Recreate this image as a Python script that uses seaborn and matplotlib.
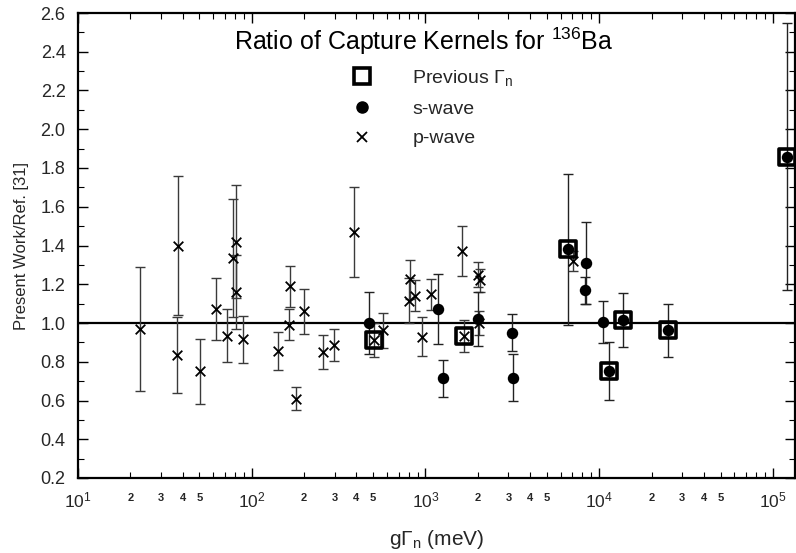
import numpy as np
import pandas as pd
import matplotlib
matplotlib.use("Agg")
import matplotlib.pyplot as plt
import seaborn as sns
from matplotlib.ticker import LogLocator, FuncFormatter, MultipleLocator, LogFormatterSciNotation
from matplotlib.lines import Line2D

# ---------------- data ----------------
p_x = [22.8, 37.8, 37.0, 50.4, 62.2, 71.8, 78.3, 81.0, 81.0, 88.7, 142, 166, 164, 201, 180,
       258, 297, 387, 506, 566, 815, 804, 871, 951, 1077, 1614, 1674, 2000, 2060, 2032, 7100]
p_y = [0.97, 1.40, 0.835, 0.75, 1.07, 0.935, 1.335, 1.42, 1.16, 0.915, 0.855, 1.19, 0.99, 1.06, 0.61,
       0.85, 0.887, 1.47, 0.912, 0.963, 1.225, 1.115, 1.14, 0.93, 1.148, 1.372, 0.933, 1.25, 1.22, 1.00, 1.32]
p_err = [0.32, 0.36, 0.195, 0.17, 0.16, 0.135, 0.305, 0.29, 0.19, 0.12, 0.10, 0.105, 0.08, 0.115, 0.058,
         0.088, 0.083, 0.23, 0.087, 0.09, 0.10, 0.115, 0.08, 0.10, 0.08, 0.13, 0.085, 0.065, 0.06, 0.063, 0.05]

s_x = [473, 1186, 1268, 1995, 3162, 3197, 6640, 8400, 8300, 10550, 11430, 13750, 24940, 120000]
s_y = [1.00, 1.074, 0.715, 1.022, 0.95, 0.718, 1.38, 1.31, 1.17, 1.005, 0.752, 1.014, 0.962, 1.858]
s_err = [0.16, 0.18, 0.095, 0.14, 0.097, 0.12, 0.39, 0.21, 0.07, 0.11, 0.15, 0.14, 0.137, 0.69]

prev_x = [506, 1674, 6640, 11430, 13750, 24940, 120000]
prev_y = [0.912, 0.933, 1.38, 0.752, 1.014, 0.962, 1.858]

legend_labels = ["Previous Γ$_{\\rm n}$", "s-wave", "p-wave"]
title_text = "Ratio of Capture Kernels for $^{136}$Ba"
x_label = "gΓ$_{\\rm n}$ (meV)"
y_label = "Present Work/Ref. [31]"

# ---------------- style ----------------
sns.set_theme(style="ticks")
plt.rcParams["font.family"] = ["Liberation Sans", "DejaVu Sans"]
plt.rcParams["mathtext.fontset"] = "custom"
plt.rcParams["mathtext.rm"] = "Liberation Sans"
plt.rcParams["mathtext.it"] = "Liberation Sans:italic"
plt.rcParams["mathtext.bf"] = "Liberation Sans:bold"

fig = plt.figure(figsize=(7.96, 5.53), dpi=100)
L, R, T, B = 78, 795, 13, 478
ax = fig.add_axes([L / 796, 1 - B / 553, (R - L) / 796, (B - T) / 553])

pdf = pd.DataFrame({"x": p_x, "y": p_y, "e": p_err})
sdf = pd.DataFrame({"x": s_x, "y": s_y, "e": s_err})
qdf = pd.DataFrame({"x": prev_x, "y": prev_y})

ax.axhline(1.0, color="black", lw=1.6, zorder=1)

ax.errorbar(pdf["x"], pdf["y"], yerr=pdf["e"], fmt="none", ecolor="#3a3a3a",
            elinewidth=1.0, capsize=3.5, capthick=1.0, zorder=2)
ax.errorbar(sdf["x"], sdf["y"], yerr=sdf["e"], fmt="none", ecolor="#222222",
            elinewidth=1.0, capsize=3.5, capthick=1.0, zorder=2)

sns.scatterplot(data=pdf, x="x", y="y", marker="x", s=48, color="black",
                linewidth=1.3, ax=ax, zorder=4, legend=False)
sns.scatterplot(data=sdf, x="x", y="y", marker="o", s=68, color="black",
                edgecolor="black", linewidth=0, ax=ax, zorder=4, legend=False)
sns.scatterplot(data=qdf, x="x", y="y", marker="s", s=135, facecolor="none",
                edgecolor="black", linewidth=2.6, ax=ax, zorder=5, legend=False)

ax.set_xscale("log")
ax.set_xlim(10, 10 ** (1 + (R - L) / 173.75))
ax.set_ylim(0.2, 2.6)

ax.xaxis.set_major_locator(LogLocator(base=10, numticks=10))
ax.xaxis.set_major_formatter(LogFormatterSciNotation())
ax.xaxis.set_minor_locator(LogLocator(base=10, subs=np.arange(2, 10), numticks=100))


def minor_fmt(v, pos):
    m = v / 10 ** np.floor(np.log10(v) + 1e-9)
    mi = int(round(m))
    return str(mi) if mi in (2, 3, 4, 5) and abs(m - mi) < 1e-6 else ""


ax.xaxis.set_minor_formatter(FuncFormatter(minor_fmt))
ax.yaxis.set_major_locator(MultipleLocator(0.2))
ax.yaxis.set_minor_locator(MultipleLocator(0.1))
ax.yaxis.set_major_formatter(FuncFormatter(lambda v, p: f"{v:.1f}"))

ax.tick_params(which="both", direction="in", top=True, right=True, color="black")
ax.tick_params(which="major", length=7, width=1.0, labelsize=13, pad=9)
ax.tick_params(axis="x", which="major", labelsize=12.5, pad=9)
ax.tick_params(which="minor", length=4.5, width=0.8)
ax.tick_params(axis="x", which="minor", labelsize=8, pad=11)
for sp in ax.spines.values():
    sp.set_linewidth(1.6)
    sp.set_color("black")

ax.set_xlabel(x_label, fontsize=15, labelpad=13)
ax.set_ylabel(y_label, fontsize=12, labelpad=8)

ax.text((424 - L) / (R - L), (B - 41) / (B - T), title_text, transform=ax.transAxes,
        ha="center", va="center", fontsize=18, color="black")

handles = [
    Line2D([], [], ls="", marker="s", mfc="none", mec="black", mew=2.6, ms=11),
    Line2D([], [], ls="", marker="o", color="black", ms=8),
    Line2D([], [], ls="", marker="x", color="black", mew=1.3, ms=7.5),
]
fs = 14
ax.legend(handles, legend_labels, loc="upper left",
          bbox_to_anchor=((352 - L) / (R - L), (B - 68) / (B - T)),
          frameon=False, fontsize=fs, handlelength=1.0, handletextpad=2.1,
          labelspacing=0.62, borderpad=0, borderaxespad=0)

fig.canvas.draw()
for lbl in ax.xaxis.get_minorticklabels():
    lbl.set_fontweight("bold")

fig.savefig("out.png", dpi=100)
